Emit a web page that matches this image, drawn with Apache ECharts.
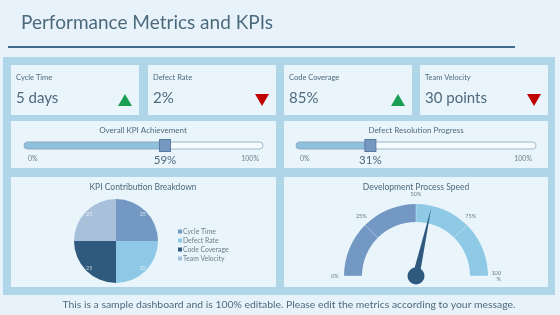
<!DOCTYPE html>
<html>
<head>
<meta charset="utf-8">
<script src="https://cdn.jsdelivr.net/npm/echarts@6/dist/echarts.min.js"></script>
<style>
  html, body { margin: 0; padding: 0; background: #e7f2fa; }
  #dash { width: 560px; height: 315px; }
</style>
</head>
<body>
<div id="dash"></div>
<script>
// KPI tiles
const kpiNames = ['Cycle Time', 'Defect Rate', 'Code Coverage', 'Team Velocity']
const kpiValues = ['5 days', '2%', '85%', '30 points']
const kpiTrend = ['up', 'down', 'up', 'down']
// progress bars
const progressNames = ['Overall KPI Achievement', 'Defect Resolution Progress']
const progressValues = [59, 31]
// pie
const pieNames = ['Cycle Time', 'Defect Rate', 'Code Coverage', 'Team Velocity']
const pieValues = [25, 25, 25, 25]
// gauge
const gaugeValue = 57
const gaugeTicks = [0, 25, 50, 75, 100]

const FONT = 'Lato'
const TXT = '#4d6a7d'
const SUB = '#6b7f8c'
const CARD = '#eaf4fb'
const pieColors = ['#7398c3', '#8fc8e6', '#2f5a7e', '#a9c0da']

const chart = echarts.init(document.getElementById('dash'))

// tile layout (decoration only)
const tileX = [11, 148, 284, 420]
const tileW = 128
const triX = [125, 262, 398, 534]

const graphic = [
  { type: 'text', left: 21, top: 13, style: { text: 'Performance Metrics and KPIs', fill: TXT, font: '19px ' + FONT } },
  { type: 'rect', shape: { x: 8, y: 46, width: 507, height: 2 }, style: { fill: '#3f6d90' } },
  { type: 'rect', shape: { x: 3, y: 57, width: 552, height: 238 }, style: { fill: '#afd5e9' }, z: -10 },
  { type: 'rect', shape: { x: 11, y: 121, width: 265, height: 47 }, style: { fill: CARD }, z: -9 },
  { type: 'rect', shape: { x: 284, y: 121, width: 264, height: 47 }, style: { fill: CARD }, z: -9 },
  { type: 'rect', shape: { x: 11, y: 177, width: 265, height: 110 }, style: { fill: CARD }, z: -9 },
  { type: 'rect', shape: { x: 284, y: 177, width: 264, height: 110 }, style: { fill: CARD }, z: -9 },
  { type: 'text', x: 143, y: 130, style: { text: progressNames[0], fill: TXT, font: '8px ' + FONT, align: 'center', verticalAlign: 'middle' } },
  { type: 'text', x: 416, y: 130, style: { text: progressNames[1], fill: TXT, font: '8px ' + FONT, align: 'center', verticalAlign: 'middle' } },
  { type: 'text', x: 143, y: 187, style: { text: 'KPI Contribution Breakdown', fill: TXT, font: '8.5px ' + FONT, align: 'center', verticalAlign: 'middle' } },
  { type: 'text', x: 416, y: 187, style: { text: 'Development Process Speed', fill: TXT, font: '8.5px ' + FONT, align: 'center', verticalAlign: 'middle' } },
  { type: 'text', x: 289, y: 305, style: { text: 'This is a sample dashboard and is 100% editable. Please edit the metrics according to your message.', fill: TXT, font: '10.4px ' + FONT, align: 'center', verticalAlign: 'middle' } }
]

kpiNames.forEach(function (name, i) {
  graphic.push({ type: 'rect', shape: { x: tileX[i], y: 65, width: tileW, height: 50 }, style: { fill: CARD }, z: -9 })
  graphic.push({ type: 'text', x: tileX[i] + 5, y: 78, style: { text: name, fill: TXT, font: '7.5px ' + FONT, verticalAlign: 'middle' } })
  graphic.push({ type: 'text', x: tileX[i] + 5, y: 98, style: { text: kpiValues[i], fill: TXT, font: '15px ' + FONT, verticalAlign: 'middle' } })
  const up = kpiTrend[i] === 'up'
  const cx = triX[i]
  graphic.push({
    type: 'polygon',
    shape: { points: up ? [[cx - 7, 106], [cx + 7, 106], [cx, 94]] : [[cx - 7, 94], [cx + 7, 94], [cx, 106]] },
    style: { fill: up ? '#1a9f52' : '#c00000' }
  })
})

function sliderAxis(idx) {
  return {
    gridIndex: idx, type: 'value', min: 0, max: 100, interval: 100,
    axisLine: { show: false }, axisTick: { show: false }, splitLine: { show: false },
    axisLabel: {
      formatter: '{value}%', fontSize: 7, color: SUB, fontFamily: FONT, margin: 6,
      alignMinLabel: 'left', alignMaxLabel: 'right', padding: [0, 4, 0, 4]
    }
  }
}

function sliderSeries(idx) {
  return [{
    type: 'bar', xAxisIndex: idx, yAxisIndex: idx, barWidth: 7,
    data: [progressValues[idx]],
    showBackground: true,
    backgroundStyle: { color: '#f5fafd', borderColor: '#86a8c2', borderWidth: 0.8, borderRadius: 3.5 },
    itemStyle: { color: '#8ec1de', borderColor: '#86a8c2', borderWidth: 0.8, borderRadius: [3.5, 0, 0, 3.5] },
    silent: true
  }, {
    type: 'scatter', xAxisIndex: idx, yAxisIndex: idx, symbol: 'rect', symbolSize: [11, 12],
    data: [[progressValues[idx], 0]],
    itemStyle: { color: '#7597c0', borderColor: '#56799f', borderWidth: 1, opacity: 1 },
    label: { show: true, position: 'bottom', distance: 2, formatter: '{@[0]}%', fontSize: 11.5, color: TXT, fontFamily: FONT },
    z: 3, silent: true
  }]
}

const option = {
  animation: false,
  textStyle: { fontFamily: FONT },
  graphic: graphic,
  grid: [
    { left: 24, top: 142, width: 239, height: 7 },
    { left: 296, top: 142, width: 240, height: 7 }
  ],
  xAxis: [sliderAxis(0), sliderAxis(1)],
  yAxis: [
    { gridIndex: 0, type: 'category', data: ['p'], show: false },
    { gridIndex: 1, type: 'category', data: ['p'], show: false }
  ],
  legend: {
    orient: 'vertical', left: 178, top: 228, padding: 0, itemWidth: 4, itemHeight: 4, itemGap: 2,
    icon: 'rect', data: pieNames,
    textStyle: { fontSize: 6.8, color: SUB, fontFamily: FONT, padding: [0, 0, 0, -4] }
  },
  series: [
    ...sliderSeries(0),
    ...sliderSeries(1),
    {
      type: 'pie', center: [116, 241], radius: [0, 42], startAngle: 90,
      color: pieColors,
      data: pieNames.map(function (n, i) { return { name: n, value: pieValues[i] } }),
      label: { show: false }, labelLine: { show: false }, silent: true
    },
    {
      type: 'pie', center: [116, 241], radius: [28, 42], startAngle: 90,
      data: pieNames.map(function (n, i) { return { name: n, value: pieValues[i] } }),
      itemStyle: { color: 'transparent' },
      label: { show: true, position: 'inside', formatter: '{c}', fontSize: 5.5, color: 'rgba(255,255,255,0.7)' },
      labelLine: { show: false }, silent: true, legendHoverLink: false
    },
    {
      type: 'gauge', center: [416, 276], radius: 72, startAngle: 180, endAngle: 0,
      min: gaugeTicks[0], max: gaugeTicks[gaugeTicks.length - 1], splitNumber: gaugeTicks.length - 1,
      axisLine: { lineStyle: { width: 18, color: [[0.5, '#7398c3'], [1, '#8ecae6']] } },
      splitLine: { show: true, distance: -18, length: 18, lineStyle: { color: 'rgba(255,255,255,0.35)', width: 1 } },
      axisTick: { show: false },
      axisLabel: {
        distance: -13, fontSize: 5.5, color: SUB,
        formatter: function (v) { return v === 100 ? '100\n%' : v + '%' }
      },
      pointer: { icon: 'triangle', length: 70, width: 7, offsetCenter: [0, 0], itemStyle: { color: '#2f5a7e' } },
      anchor: { show: true, showAbove: true, size: 17, itemStyle: { color: '#2f5a7e' } },
      title: { show: false }, detail: { show: false },
      data: [{ value: gaugeValue }]
    }
  ]
}

chart.setOption(option)
</script>
</body>
</html>
